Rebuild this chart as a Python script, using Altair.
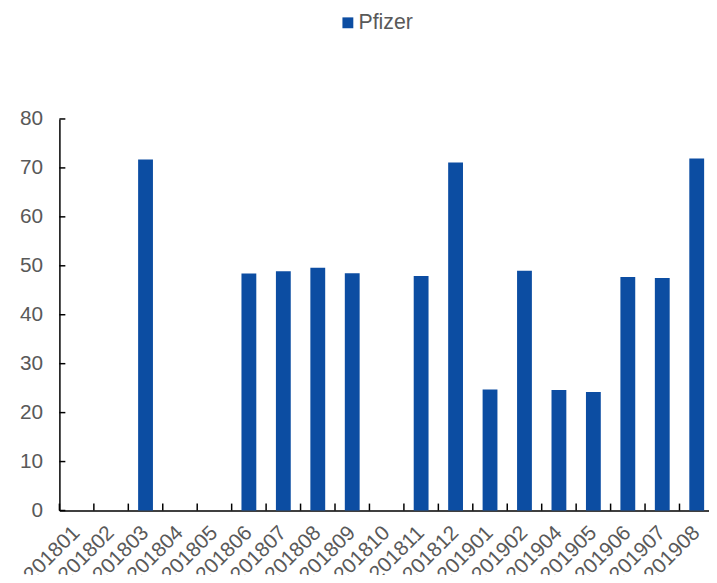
import altair as alt
import pandas as pd

months = ["201801", "201802", "201803", "201804", "201805", "201806", "201807",
          "201808", "201809", "201810", "201811", "201812", "201901", "201902",
          "201904", "201905", "201906", "201907", "201908"]
values = [None, None, 71.7, None, None, 48.4, 48.9, 49.6, 48.5, None, 47.9,
          71.1, 24.7, 49.0, 24.6, 24.2, 47.7, 47.5, 71.9]
series_name = "Pfizer"
y_ticks = [0, 10, 20, 30, 40, 50, 60, 70, 80]

BLUE = "#0c4da2"
GRAY = "#595959"
FONT = "Liberation Sans"

df = pd.DataFrame({"month": months, "value": values, "series": series_name})
ticks_df = pd.DataFrame({"v": y_ticks})

xscale = alt.Scale(domain=months, paddingInner=0, paddingOuter=0)

bars = alt.Chart(df).mark_bar(size=15).encode(
    x=alt.X("month:N", scale=xscale, sort=months,
            axis=alt.Axis(title=None, labelAngle=-45, ticks=False,
                          labelAlign="right", labelBaseline="middle",
                          labelFontSize=21, labelColor=GRAY, labelFont=FONT,
                          domainColor="black", domainWidth=1.5, labelPadding=19)),
    y=alt.Y("value:Q", scale=alt.Scale(domain=[0, 80], nice=False),
            axis=alt.Axis(title=None, values=y_ticks, ticks=False, grid=False,
                          labelFontSize=21, labelColor=GRAY, labelFont=FONT,
                          labelPadding=17, domainColor="black", domainWidth=1.5)),
    color=alt.Color("series:N", scale=alt.Scale(range=[BLUE]),
                    legend=alt.Legend(orient="none", legendX=281, legendY=-108,
                                      title=None, symbolType="square",
                                      symbolSize=121, symbolStrokeWidth=0,
                                      labelFontSize=21.5, labelColor=GRAY,
                                      labelFont=FONT, padding=0, labelOffset=0,
                                      direction="horizontal")),
)

yticks = alt.Chart(ticks_df).mark_rule(color="black", strokeWidth=1.5).encode(
    y=alt.Y("v:Q"), x=alt.value(0), x2=alt.value(6)
)

xticks = alt.Chart(df).mark_rule(color="black", strokeWidth=1.5).encode(
    x=alt.X("month:N", bandPosition=0, sort=months), y=alt.value(396), y2=alt.value(389)
)

chart = alt.layer(bars, yticks, xticks).properties(
    width=662, height=396,
    padding={"left": 52, "top": 109, "right": -5, "bottom": 62},
    autosize=alt.AutoSizeParams(type="none"),
    background="white",
).configure_view(stroke=None)

chart.save("out.html", embed_options={"renderer": "svg", "actions": False})
